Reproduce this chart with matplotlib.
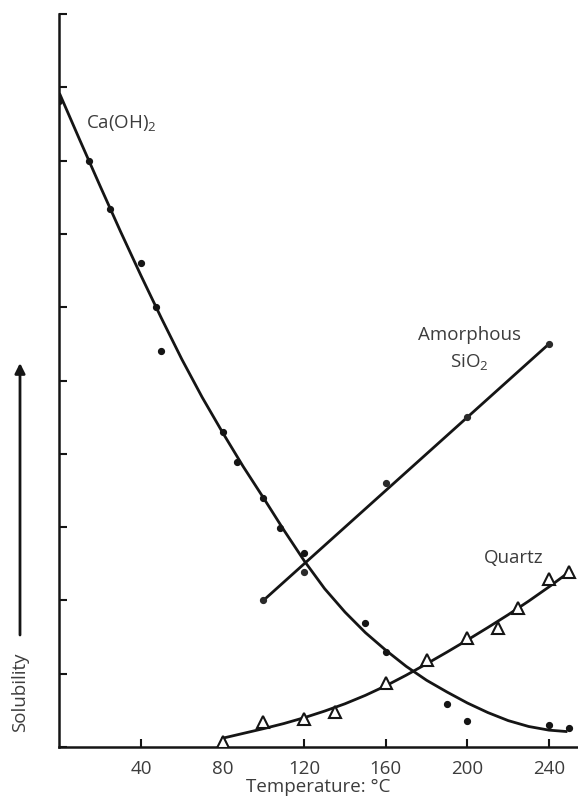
import matplotlib
matplotlib.use("Agg")
import matplotlib.pyplot as plt

plt.rcParams['font.family'] = ['Open Sans', 'DejaVu Sans']
plt.rcParams['mathtext.default'] = 'regular'

# Ca(OH)2 measured points
ca_x = [0, 14.5, 24.8, 40, 47.4, 49.8, 80, 87, 100, 108, 120, 150, 160, 190, 200, 240, 250]
ca_y = [8.82, 8.0, 7.34, 6.6, 6.0, 5.4, 4.3, 3.89, 3.40, 2.99, 2.65, 1.69, 1.30, 0.59, 0.35, 0.30, 0.26]
ca_fit_x = [0, 10, 20, 30, 40, 50, 60, 70, 80, 90, 100, 110, 120, 130, 140, 150,
            160, 170, 180, 190, 200, 210, 220, 230, 240, 249]
ca_fit_y = [8.92, 8.28, 7.65, 7.03, 6.43, 5.85, 5.29, 4.77, 4.29, 3.83, 3.40, 2.96,
            2.54, 2.16, 1.84, 1.56, 1.32, 1.10, 0.91, 0.75, 0.60, 0.47, 0.36, 0.28, 0.23, 0.21]

# Amorphous SiO2
si_x = [100, 120, 160, 200, 240]
si_y = [2.0, 2.39, 3.6, 4.5, 5.5]
si_fit_x = [100, 240]
si_fit_y = [2.0, 5.5]

# Quartz
qz_x = [80, 100, 120, 135, 160, 180, 200, 215, 225, 240, 250]
qz_y = [0.07, 0.34, 0.38, 0.48, 0.87, 1.19, 1.49, 1.62, 1.90, 2.29, 2.39]
qz_fit_x = [80, 90, 100, 110, 120, 130, 140, 150, 160, 170, 180, 190, 200, 210,
            220, 230, 240, 250]
qz_fit_y = [0.12, 0.185, 0.25, 0.32, 0.40, 0.49, 0.59, 0.705, 0.835, 0.98, 1.135, 1.295,
            1.46, 1.63, 1.805, 1.99, 2.185, 2.39]

x_ticks = [40, 80, 120, 160, 200, 240]
y_ticks = list(range(0, 11))

line_c = '#151515'
text_c = '#3c3c3c'
fs = 13.5

fig = plt.figure(figsize=(5.78, 8.06), dpi=100)
ax = fig.add_axes([0.1028, 0.0732, 0.8972, 0.9094])

ax.plot(ca_fit_x, ca_fit_y, color=line_c, lw=2.0, solid_capstyle='butt', zorder=2)
ax.plot(ca_x, ca_y, 'o', color=line_c, ms=4.2, zorder=3)

ax.plot(si_fit_x, si_fit_y, color=line_c, lw=2.0, zorder=2)
ax.plot(si_x, si_y, 'o', color='#2a2a2a', ms=4.2, zorder=3)

ax.plot(qz_fit_x, qz_fit_y, color=line_c, lw=2.0, zorder=2)
ax.plot(qz_x, qz_y, '^', mfc='white', mec=line_c, mew=1.5, ms=9, zorder=3)

ax.set_xlim(0, 254.2)
ax.set_ylim(0, 10)
ax.set_xticks(x_ticks)
ax.set_xticklabels([str(t) for t in x_ticks])
ax.set_yticks(y_ticks)
ax.set_yticklabels([])
ax.tick_params(axis='both', direction='in', length=6, width=1.5, color=line_c)
ax.tick_params(axis='x', labelsize=fs, labelcolor=text_c, pad=9)
for s in ['top', 'right']:
    ax.spines[s].set_visible(False)
for s in ['left', 'bottom']:
    ax.spines[s].set_linewidth(1.8)
    ax.spines[s].set_color(line_c)
ax.spines['left'].set_bounds(0, 10)
ax.set_xlabel('Temperature: °C', fontsize=fs, color=text_c, labelpad=0)

ax.text(13.0, 8.44, 'Ca(OH)$_2$', fontsize=fs, color=text_c, ha='left', va='baseline')
ax.text(201, 5.55, 'Amorphous', fontsize=fs, color=text_c, ha='center', va='baseline')
ax.text(201, 5.18, 'SiO$_2$', fontsize=fs, color=text_c, ha='center', va='baseline')
ax.text(208.2, 2.51, 'Quartz', fontsize=fs, color=text_c, ha='left', va='baseline')

fig.text(0.0346, 0.1414, 'Solubility', rotation=90, fontsize=fs, color=text_c,
         ha='center', va='center')
fig.patches.append(matplotlib.patches.FancyArrowPatch(
    (0.0346, 1 - 635 / 806), (0.0346, 1 - 363 / 806), transform=fig.transFigure,
    arrowstyle='-|>,head_length=6,head_width=3', lw=2.0, color=line_c,
    shrinkA=0, shrinkB=0))

fig.savefig('out.png', dpi=100)
